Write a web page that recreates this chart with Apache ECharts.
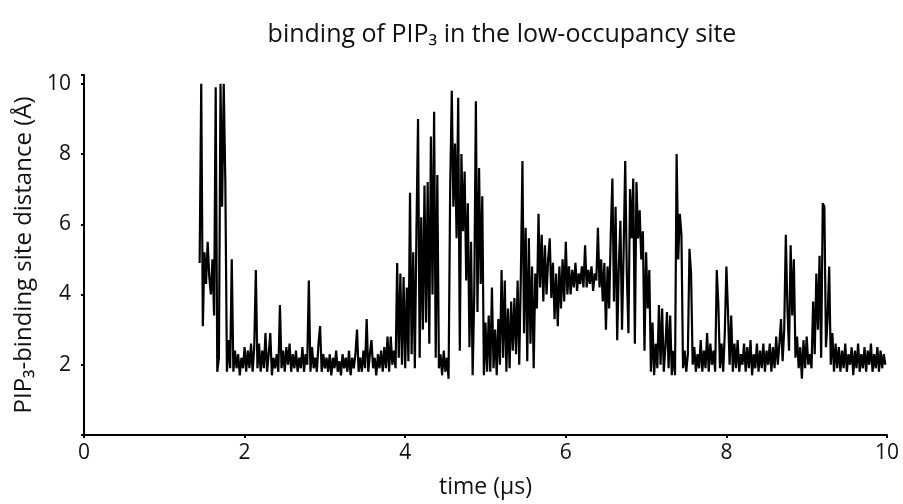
<!DOCTYPE html>
<html>
<head>
<meta charset="utf-8">
<title>binding of PIP3 in the low-occupancy site</title>
<script src="https://cdn.jsdelivr.net/npm/echarts@6/dist/echarts.min.js"></script>
<style>
	html, body { margin: 0; padding: 0; background: #fff; }
	#chart { width: 903px; height: 504px; }
</style>
</head>
<body>
<div id="chart"></div>
<script>
// time axis (µs): samples start at t0, one every dt
const t0 = 1.44;
const dt = 0.02;

const xTicks = [0, 2, 4, 6, 8, 10];
const yTicks = [2, 4, 6, 8, 10];

// PIP3-binding site distance (Å), 10 samples per row
const distance = [
	4.9, 10.0, 3.1, 5.2, 4.3, 5.5, 4.5, 4.0, 5.0, 3.4,
	9.9, 1.8, 2.2, 10.0, 6.5, 10.0, 7.2, 1.8, 2.7, 1.9,
	5.0, 1.8, 2.4, 1.9, 2.3, 1.7, 2.2, 1.9, 2.5, 1.8,
	2.4, 1.9, 2.6, 1.8, 2.5, 4.7, 1.9, 2.6, 1.8, 2.4,
	1.9, 2.9, 1.8, 2.3, 2.9, 1.7, 2.2, 1.9, 2.3, 1.8,
	3.7, 1.9, 2.4, 1.8, 2.5, 2.0, 2.6, 1.8, 2.3, 1.9,
	2.4, 1.8, 2.2, 1.9, 2.5, 1.8, 2.3, 2.0, 4.4, 1.8,
	2.5, 1.9, 2.2, 1.8, 2.6, 3.1, 1.8, 2.3, 1.9, 2.2,
	1.8, 2.3, 1.7, 2.2, 1.9, 2.4, 1.8, 2.1, 1.7, 2.3,
	1.9, 2.2, 1.8, 2.4, 1.7, 2.2, 1.9, 2.3, 3.0, 1.8,
	2.2, 1.8, 2.4, 1.9, 3.3, 1.8, 2.3, 2.7, 1.9, 2.2,
	1.7, 2.3, 1.9, 2.4, 1.8, 2.5, 1.9, 2.8, 1.8, 2.8,
	2.0, 2.4, 1.9, 4.9, 2.2, 4.6, 2.0, 4.5, 1.9, 4.2,
	2.1, 6.9, 2.3, 5.2, 1.9, 5.8, 9.0, 2.2, 6.2, 3.0,
	7.1, 3.2, 7.2, 2.6, 8.5, 4.0, 9.2, 2.2, 7.4, 1.9,
	2.3, 1.7, 2.4, 1.8, 2.2, 1.6, 7.0, 9.8, 6.5, 8.3,
	5.6, 9.6, 2.4, 8.0, 5.8, 7.5, 4.4, 6.6, 2.5, 5.5,
	1.7, 4.0, 9.5, 3.5, 7.6, 4.3, 6.8, 1.7, 3.2, 1.8,
	3.4, 1.8, 4.2, 1.9, 3.0, 1.7, 3.3, 2.0, 4.7, 2.2,
	4.4, 1.8, 3.6, 1.9, 3.8, 2.4, 3.9, 2.3, 4.4, 2.0,
	4.5, 7.8, 2.9, 5.9, 2.1, 5.6, 2.6, 4.8, 1.9, 4.6,
	3.6, 6.3, 4.2, 5.7, 3.8, 5.4, 4.0, 5.0, 5.6, 3.9,
	4.9, 3.3, 4.6, 3.1, 4.8, 3.6, 5.0, 3.8, 5.5, 4.0,
	4.8, 4.0, 4.7, 4.2, 4.9, 4.1, 4.6, 4.3, 4.8, 4.2,
	5.4, 4.2, 4.7, 4.3, 4.8, 4.1, 4.6, 4.4, 5.9, 4.2,
	5.0, 3.8, 4.9, 3.0, 4.8, 3.6, 5.7, 7.3, 3.8, 6.5,
	2.7, 4.8, 6.1, 3.0, 5.2, 7.8, 4.6, 2.9, 7.0, 5.6,
	7.3, 2.6, 7.2, 5.6, 6.4, 5.0, 5.8, 2.4, 5.2, 3.6,
	4.7, 1.8, 3.2, 1.7, 2.6, 1.9, 3.7, 2.0, 3.6, 1.8,
	2.5, 3.5, 1.9, 3.4, 1.7, 2.4, 1.7, 8.0, 5.0, 6.3,
	5.7, 1.9, 2.4, 1.8, 2.3, 5.3, 4.6, 2.0, 2.5, 1.8,
	2.3, 1.9, 2.7, 1.8, 2.4, 1.9, 2.9, 1.8, 2.6, 2.0,
	2.4, 1.8, 4.7, 3.7, 1.9, 2.6, 1.8, 2.9, 4.8, 3.5,
	2.0, 3.4, 1.8, 2.6, 1.9, 2.7, 1.8, 2.3, 2.0, 2.6,
	1.8, 2.5, 1.9, 2.7, 1.7, 2.3, 1.9, 2.6, 1.8, 2.4,
	1.9, 2.6, 1.8, 2.4, 2.0, 2.6, 1.8, 2.5, 1.9, 2.8,
	2.0, 2.6, 3.3, 2.1, 3.0, 5.7, 3.6, 2.4, 5.4, 3.4,
	5.0, 2.2, 2.8, 1.9, 2.5, 1.6, 2.7, 1.9, 2.8, 2.0,
	2.3, 1.9, 3.8, 2.3, 4.6, 3.0, 5.1, 2.2, 6.6, 6.5,
	2.5, 3.3, 4.8, 2.0, 2.9, 1.8, 2.6, 1.9, 2.5, 1.8,
	2.4, 1.9, 2.6, 1.8, 2.3, 2.0, 2.5, 1.7, 2.4, 1.9,
	2.6, 1.8, 2.3, 1.9, 2.5, 1.8, 2.4, 2.0, 2.6, 1.8,
	2.3, 1.9, 2.5, 1.8, 2.4, 1.9, 2.3, 2.0
];

const font = '"Open Sans", "Noto Sans", "DejaVu Sans", sans-serif';
const ink = '#111';

const chart = echarts.init(document.getElementById('chart'));

const points = distance.map(function (v, i) {
	return [+(t0 + i * dt).toFixed(2), v];
});

const options = {
	animation: false,
	backgroundColor: '#fff',
	title: {
		text: 'binding of PIP₃ in the low-occupancy site',
		left: 497,
		top: 17,
		textAlign: 'center',
		textStyle: {
			fontFamily: font,
			fontSize: 25,
			fontWeight: 'normal',
			color: ink
		}
	},
	grid: {
		left: 84,
		right: 16,
		top: 75,
		bottom: 68
	},
	xAxis: {
		type: 'value',
		min: 0,
		max: 10,
		interval: 2,
		name: 'time (µs)',
		nameLocation: 'middle',
		nameGap: 41,
		nameTextStyle: { fontFamily: font, fontSize: 23, color: ink },
		axisLine: { lineStyle: { color: '#000', width: 2 } },
		axisTick: { show: true, length: 3, lineStyle: { color: '#000', width: 2 } },
		axisLabel: {
			fontFamily: font,
			fontSize: 21,
			color: ink,
			margin: 8,
			formatter: function (v) {
				return xTicks.indexOf(v) > -1 ? String(v) : '';
			}
		},
		splitLine: { show: false }
	},
	yAxis: {
		type: 'value',
		min: 0,
		max: 10.25,
		interval: 2,
		name: 'PIP₃-binding site distance (Å)',
		nameLocation: 'middle',
		nameGap: 46,
		nameTextStyle: { fontFamily: font, fontSize: 24, color: ink },
		axisLine: { show: true, lineStyle: { color: '#000', width: 2 } },
		axisTick: { show: true, length: 3, lineStyle: { color: '#000', width: 2 } },
		axisLabel: {
			fontFamily: font,
			fontSize: 21,
			color: ink,
			margin: 13,
			formatter: function (v) {
				return yTicks.indexOf(v) > -1 ? String(v) : '';
			}
		},
		splitLine: { show: false }
	},
	series: [{
		name: 'distance',
		type: 'line',
		data: points,
		showSymbol: false,
		symbol: 'none',
		lineStyle: { color: '#000', width: 2.2, join: 'miter', miterLimit: 4 },
		emphasis: { disabled: true }
	}]
};

chart.setOption(options);
</script>
</body>
</html>
